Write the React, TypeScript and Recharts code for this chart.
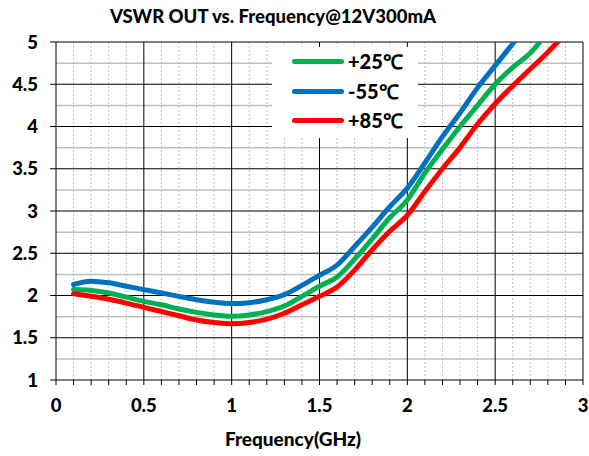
import React from "react";
import { LineChart, Line, XAxis, YAxis, CartesianGrid, Legend } from "recharts";

// frequency points (GHz)
const freq = [
  0.1, 0.2, 0.3, 0.4, 0.5, 0.6, 0.7, 0.8, 0.9, 1.0, 1.1, 1.2, 1.3, 1.4, 1.5,
  1.6, 1.7, 1.8, 1.9, 2.0, 2.1, 2.2, 2.3, 2.4, 2.5, 2.6, 2.7, 2.8, 2.9,
];

// VSWR readings per temperature
const vswrPlus25 = [
  2.07, 2.06, 2.03, 1.98, 1.93, 1.89, 1.84, 1.8, 1.77, 1.755, 1.77, 1.81,
  1.875, 1.99, 2.11, 2.22, 2.43, 2.67, 2.92, 3.13, 3.45, 3.73, 4.0, 4.25, 4.5,
  4.7, 4.87, 5.12, null,
];
const vswrMinus55 = [
  2.13, 2.17, 2.15, 2.11, 2.07, 2.03, 1.99, 1.95, 1.92, 1.905, 1.915, 1.95,
  2.01, 2.12, 2.24, 2.36, 2.58, 2.81, 3.05, 3.27, 3.57, 3.88, 4.16, 4.46, 4.72,
  4.98, 5.25, null, null,
];
const vswrPlus85 = [
  2.02, 1.99, 1.955, 1.91, 1.86, 1.81, 1.76, 1.71, 1.68, 1.665, 1.68, 1.72,
  1.79, 1.89, 1.99, 2.1, 2.3, 2.54, 2.76, 2.95, 3.23, 3.5, 3.75, 4.03, 4.27,
  4.48, 4.68, 4.88, 5.1,
];

const seriesOrder = ["+25℃", "-55℃", "+85℃"];

const xTicks = [
  0, 0.1, 0.2, 0.3, 0.4, 0.5, 0.6, 0.7, 0.8, 0.9, 1, 1.1, 1.2, 1.3, 1.4, 1.5,
  1.6, 1.7, 1.8, 1.9, 2, 2.1, 2.2, 2.3, 2.4, 2.5, 2.6, 2.7, 2.8, 2.9, 3,
];
const yTicks = [1, 1.5, 2, 2.5, 3, 3.5, 4, 4.5, 5];
const xMajorGrid = [0.5, 1, 1.5, 2, 2.5, 3];
const xMinorGrid = [
  0.1, 0.2, 0.3, 0.4, 0.6, 0.7, 0.8, 0.9, 1.1, 1.2, 1.3, 1.4, 1.6, 1.7, 1.8,
  1.9, 2.1, 2.2, 2.3, 2.4, 2.6, 2.7, 2.8, 2.9,
];
const yMajorGrid = [1.5, 2, 2.5, 3, 3.5, 4, 4.5, 5];
const yMinorGrid = [1.25, 1.75, 2.25, 2.75, 3.25, 3.75, 4.25, 4.75];

const data = freq.map((f, i) => ({
  f,
  p25: vswrPlus25[i],
  m55: vswrMinus55[i],
  p85: vswrPlus85[i],
}));

const FONT = "Lato, 'Liberation Sans', sans-serif";

function isHalf(v: number) {
  return Math.abs(v * 2 - Math.round(v * 2)) < 1e-6;
}

function LegendBox(props: any) {
  const items = [...(props.payload || [])].sort(
    (a: any, b: any) => seriesOrder.indexOf(a.value) - seriesOrder.indexOf(b.value)
  );
  return (
    <div
      style={{
        width: 146,
        height: 91,
        background: "#fff",
        fontFamily: FONT,
        fontWeight: 900,
        fontSize: 20,
        color: "#000",
      }}
    >
      {items.map((it: any) => (
        <div
          key={it.value}
          style={{ height: 29.5, display: "flex", alignItems: "center" }}
        >
          <div
            style={{
              marginLeft: 20,
              width: 52,
              height: 5,
              borderRadius: 3,
              background: it.color,
            }}
          />
          <span style={{ marginLeft: 4 }}>{it.value}</span>
        </div>
      ))}
    </div>
  );
}

export default function App() {
  return (
    <div
      style={{
        position: "absolute",
        left: 0,
        top: 0,
        width: 589,
        height: 456,
        background: "#fff",
        fontFamily: FONT,
      }}
    >
      <div
        style={{
          position: "absolute",
          left: 0,
          width: 546,
          top: 5,
          textAlign: "center",
          fontWeight: 900,
          fontSize: 18.5,
        }}
      >
        VSWR OUT vs. Frequency@12V300mA
      </div>
      <LineChart
        width={589}
        height={456}
        data={data}
        margin={{ top: 42, right: 6, bottom: 8, left: 0 }}
      >
        <CartesianGrid
          verticalValues={xMinorGrid}
          horizontal={false}
          stroke="#bfbfbf"
          strokeDasharray="2 2"
        />
        <CartesianGrid
          horizontalValues={yMinorGrid}
          vertical={false}
          stroke="#bfbfbf"
          strokeWidth={1.5}
        />
        <CartesianGrid
          horizontalValues={yMajorGrid}
          verticalValues={xMajorGrid}
          stroke="#000"
        />
        <XAxis
          dataKey="f"
          type="number"
          domain={[0, 3]}
          ticks={xTicks}
          interval={0}
          tickSize={5}
          tickMargin={14}
          height={68}
          stroke="#000"
          tick={{ fill: "#000", fontSize: 18.5, fontWeight: 900, fontFamily: FONT }}
          tickFormatter={(v: number) => (isHalf(v) ? String(v) : "")}
        />
        <YAxis
          type="number"
          domain={[1, 5]}
          ticks={yTicks}
          interval={0}
          allowDataOverflow
          width={56}
          tickSize={6}
          tickMargin={12}
          stroke="#000"
          tick={{ fill: "#000", fontSize: 18.5, fontWeight: 900, fontFamily: FONT }}
        />
        <Legend
          layout="horizontal"
          align="center"
          verticalAlign="middle"
          content={<LegendBox />}
          wrapperStyle={{ left: 272, top: 47, width: 146, height: 91 }}
        />
        <Line
          type="monotone"
          dataKey="p25"
          name="+25℃"
          stroke="#00b050"
          strokeWidth={5}
          strokeLinecap="round"
          dot={false}
          isAnimationActive={false}
        />
        <Line
          type="monotone"
          dataKey="m55"
          name="-55℃"
          stroke="#0070c0"
          strokeWidth={5}
          strokeLinecap="round"
          dot={false}
          isAnimationActive={false}
        />
        <Line
          type="monotone"
          dataKey="p85"
          name="+85℃"
          stroke="#ff0000"
          strokeWidth={5}
          strokeLinecap="round"
          dot={false}
          isAnimationActive={false}
        />
      </LineChart>
      <div
        style={{
          position: "absolute",
          left: 193,
          width: 200,
          top: 427,
          textAlign: "center",
          fontWeight: 900,
          fontSize: 19,
        }}
      >
        Frequency(GHz)
      </div>
    </div>
  );
}
